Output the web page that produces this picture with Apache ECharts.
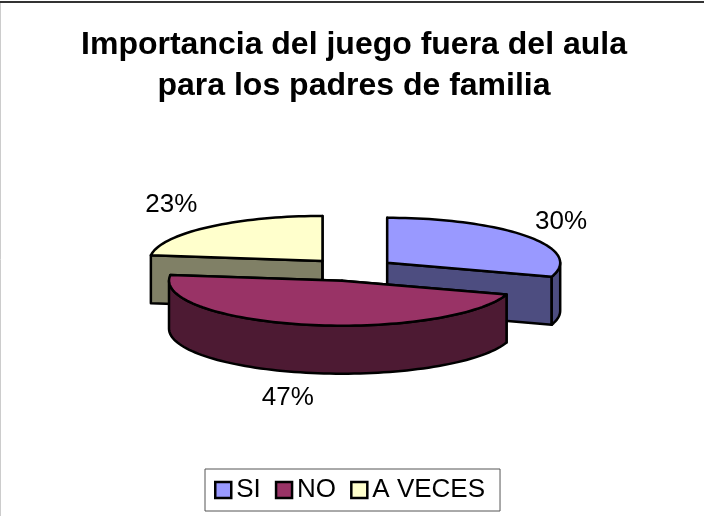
<!DOCTYPE html>
<html>
<head>
<meta charset="utf-8">
<style>
  html, body { margin: 0; padding: 0; background: #fff; }
  #chart { width: 704px; height: 516px; }
</style>
<script src="https://cdn.jsdelivr.net/npm/echarts@6/dist/echarts.min.js"></script>
</head>
<body>
<div id="chart"></div>
<script>
const categories = ["SI", "NO", "A VECES"];
const values = [30, 47, 23];
const percentLabels = ["30%", "47%", "23%"];
const topColors = ["#9999FF", "#993366", "#FFFFCC"];
const wallColors = ["#4D4D80", "#4D1A33", "#808066"];

// 3D pie geometry, ECharts has no 3D pie so it is drawn with a custom series
const FONT = "Liberation Sans, Arial, sans-serif";
const centerX = 351.6;
const centerY = 269.5;
const radiusX = 173;
const radiusY = 45;
const depth = 48;
const explode = 44;
const labelNudge = [[-5, 3], [-6, -4], [-5, 0]];
const total = values.reduce((a, b) => a + b, 0);

function rimPoint(cx, cy, deg) {
  const a = deg * Math.PI / 180;
  return [cx + radiusX * Math.sin(a), cy - radiusY * Math.cos(a)];
}

function arcPoints(cx, cy, from, to) {
  const pts = [];
  const steps = Math.max(2, Math.ceil(Math.abs(to - from) / 2));
  for (let i = 0; i <= steps; i++) {
    pts.push(rimPoint(cx, cy, from + (to - from) * i / steps));
  }
  return pts;
}

function renderSlice(index) {
  const start = values.slice(0, index).reduce((a, b) => a + b, 0) / total * 360;
  const end = start + values[index] / total * 360;
  const mid = (start + end) / 2 * Math.PI / 180;
  const cx = centerX + explode * Math.sin(mid);
  const cy = centerY - explode * radiusY / radiusX * Math.cos(mid);
  const z2 = Math.round(cy);
  const stroke = { stroke: "#000", lineWidth: 2.5, lineJoin: "round" };
  const children = [];

  const wall = (points) => children.push({
    type: "polygon",
    z2: z2,
    shape: { points: points },
    style: Object.assign({ fill: wallColors[index] }, stroke)
  });

  // the two cut faces
  [start, end].forEach(deg => {
    const p = rimPoint(cx, cy, deg);
    wall([[cx, cy], p, [p[0], p[1] + depth], [cx, cy + depth]]);
  });

  // outer wall, only the part facing the viewer
  const from = Math.max(start, 90);
  const to = Math.min(end, 270);
  if (from < to) {
    const front = arcPoints(cx, cy, from, to);
    const back = front.map(p => [p[0], p[1] + depth]).reverse();
    wall(front.concat(back));
  }

  // top face
  children.push({
    type: "polygon",
    z2: z2,
    shape: { points: [[cx, cy]].concat(arcPoints(cx, cy, start, end)) },
    style: Object.assign({ fill: topColors[index] }, stroke)
  });

  // percent label
  const lx = cx + (radiusX + 48) * Math.sin(mid) + labelNudge[index][0];
  const ly = cy - (radiusY + 30) * Math.cos(mid) + (Math.cos(mid) < 0 ? depth : 0) + labelNudge[index][1];
  children.push({
    type: "text",
    z2: z2 + 1000,
    style: {
      x: lx,
      y: ly,
      text: percentLabels[index],
      fill: "#000",
      font: "26px " + FONT,
      align: "center",
      verticalAlign: "middle"
    }
  });

  return { type: "group", children: children };
}

const chart = echarts.init(document.getElementById("chart"));

chart.setOption({
  animation: false,
  backgroundColor: "#fff",
  title: {
    text: "Importancia del juego fuera del aula\npara los padres de familia",
    left: 349,
    top: 20,
    textAlign: "center",
    textStyle: {
      fontFamily: FONT,
      fontSize: 32,
      fontWeight: "bold",
      color: "#000",
      lineHeight: 41
    }
  },
  legend: {
    data: categories,
    left: 205,
    top: 469,
    icon: "rect",
    itemWidth: 16,
    itemHeight: 16,
    itemGap: 14,
    padding: [8, 15, 8, 9],
    borderColor: "#555",
    borderWidth: 1,
    backgroundColor: "#fff",
    selectedMode: false,
    itemStyle: { borderColor: "#000", borderWidth: 2.5 },
    textStyle: { fontFamily: FONT, fontSize: 26, color: "#000" }
  },
  series: categories.map((name, i) => ({
    name: name,
    type: "custom",
    coordinateSystem: "none",
    silent: true,
    itemStyle: { color: topColors[i] },
    data: [values[i]],
    renderItem: () => renderSlice(i)
  })),
  graphic: [
    {
      type: "line",
      silent: true,
      shape: { x1: 0, y1: 2, x2: 704, y2: 2 },
      style: { stroke: "#333", lineWidth: 2 }
    },
    {
      type: "line",
      silent: true,
      shape: { x1: 0.5, y1: 3, x2: 0.5, y2: 516 },
      style: { stroke: "#ccc", lineWidth: 1 }
    }
  ]
});

window.addEventListener("resize", () => chart.resize());
</script>
</body>
</html>
